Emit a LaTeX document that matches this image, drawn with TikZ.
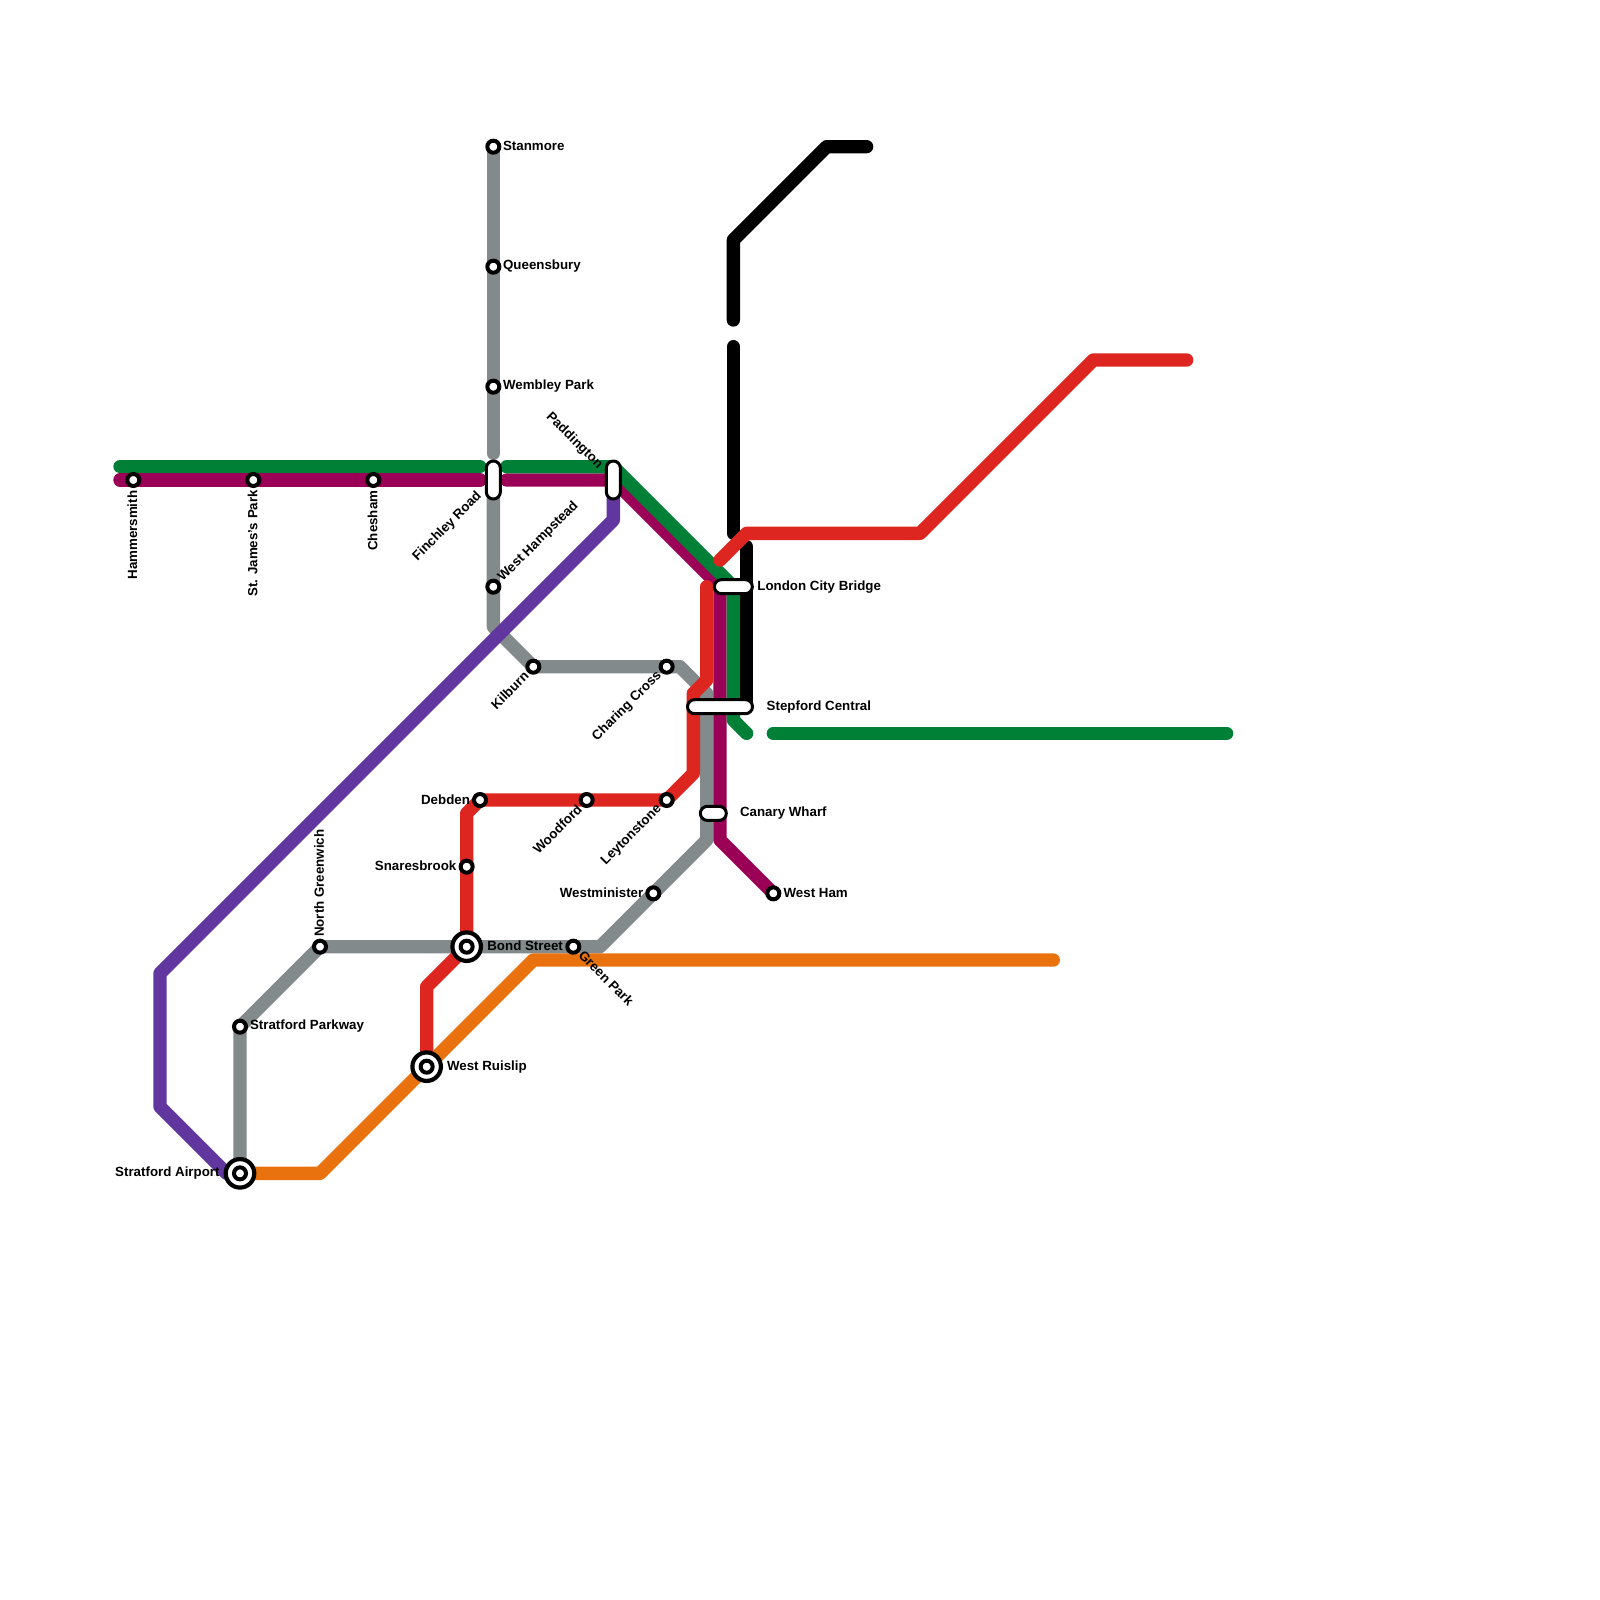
\documentclass[tikz,border=0pt]{standalone}
\usepackage{fontspec}
\setmainfont{Liberation Sans}
\usepackage{xcolor}
\definecolor{Line_Green}{HTML}{007F36}
\definecolor{Line_Magenta}{HTML}{990056}
\definecolor{Line_Purple}{HTML}{61369E}
\definecolor{Line_Gray}{HTML}{838A8C}
\definecolor{Line_Red}{HTML}{DD261F}
\definecolor{Line_Orange}{HTML}{E9720F}

\begin{document}
\begin{tikzpicture}[
    x=0.13333cm, y=-0.13333cm,
    metro/.style={line width=0.13333cm, line cap=round, line join=round},
    stop/.style={circle, draw=black, fill=white, line width=0.04cm, inner sep=0pt, minimum size=0.12cm},
    hub/.style={circle, draw=black, fill=white, line width=0.042cm, inner sep=0pt, minimum size=0.285cm},
    pill/.style={rectangle, draw=black, fill=white, line width=0.03cm, inner sep=0pt, rounded corners=0.07cm},
    pillh/.style={pill, minimum height=0.14cm, minimum width=#1},
    pillv/.style={pill, minimum width=0.14cm, minimum height=#1},
    lbl/.style={font=\fontsize{3.79}{4.5}\selectfont\bfseries, inner sep=0pt, text=black}
]
\useasboundingbox (0,0) rectangle (120,120);

% stations
\coordinate (stanmore) at (37,11);
\coordinate (queensbury) at (37,20);
\coordinate (wembley) at (37,29);
\coordinate (finchley) at (37,36);
\coordinate (hampstead) at (37,44);
\coordinate (paddington) at (46,36);
\coordinate (hammersmith) at (10,36);
\coordinate (jamespark) at (19,36);
\coordinate (chesham) at (28,36);
\coordinate (kilburn) at (40,50);
\coordinate (charing) at (50,50);
\coordinate (debden) at (36,60);
\coordinate (woodford) at (44,60);
\coordinate (leytonstone) at (50,60);
\coordinate (snaresbrook) at (35,65);
\coordinate (bond) at (35,71);
\coordinate (greenpark) at (43,71);
\coordinate (westminister) at (49,67);
\coordinate (westham) at (58,67);
\coordinate (greenwich) at (24,71);
\coordinate (parkway) at (18,77);
\coordinate (airport) at (18,88);
\coordinate (ruislip) at (32,80);
\coordinate (cityBridge) at (55,44);
\coordinate (stepford) at (54,53);
\coordinate (canary) at (53.5,61);

% bends and line ends
\coordinate (blackA) at (65,11);
\coordinate (blackB) at (62,11);
\coordinate (blackC) at (55,18);
\coordinate (blackD) at (55,24);
\coordinate (blackE) at (55,26);
\coordinate (blackF) at (55,40);
\coordinate (blackG) at (56,41);
\coordinate (blackH) at (56,53);
\coordinate (grayA) at (37,34);
\coordinate (grayB) at (37,47);
\coordinate (grayC) at (51,50);
\coordinate (grayD) at (53,52);
\coordinate (grayE) at (53,63);
\coordinate (grayF) at (45,71);
\coordinate (magA) at (9,36);
\coordinate (magB) at (36,36);
\coordinate (magC) at (38,36);
\coordinate (magD) at (54,44);
\coordinate (magE) at (54,63);
\coordinate (greenA) at (9,35);
\coordinate (greenB) at (36,35);
\coordinate (greenC) at (38,35);
\coordinate (greenD) at (46,35);
\coordinate (greenE) at (55,54);
\coordinate (greenF) at (56,55);
\coordinate (greenG) at (58,55);
\coordinate (greenH) at (92,55);
\coordinate (purpleA) at (46,39);
\coordinate (purpleB) at (12,73);
\coordinate (purpleC) at (12,83);
\coordinate (purpleD) at (17,88);
\coordinate (redA) at (89,27);
\coordinate (redB) at (82,27);
\coordinate (redC) at (69,40);
\coordinate (redD) at (56,40);
\coordinate (redE) at (54,42);
\coordinate (redF) at (53,44);
\coordinate (redG) at (53,51);
\coordinate (redH) at (52,52);
\coordinate (redI) at (52,58);
\coordinate (redJ) at (35,61);
\coordinate (redK) at (32,74);
\coordinate (orangeA) at (24,88);
\coordinate (orangeB) at (40,72);
\coordinate (orangeC) at (79,72);

% lines
\draw[metro, black] (blackA) -- (blackB) -- (blackC) -- (blackD);
\draw[metro, black] (blackE) -- (blackF);
\draw[metro, black] (blackG) -- (blackH);
\draw[metro, Line_Gray] (stanmore) -- (grayA);
\draw[metro, Line_Gray] (finchley) -- (grayB) -- (kilburn) -- (grayC) -- (grayD) -- (grayE) -- (grayF) -- (greenwich) -- (parkway) -- (airport);
\draw[metro, Line_Magenta] (magA) -- (magB);
\draw[metro, Line_Magenta] (magC) -- (paddington) -- (magD) -- (magE) -- (westham);
\draw[metro, Line_Green] (greenA) -- (greenB);
\draw[metro, Line_Green] (greenC) -- (greenD) -- (cityBridge) -- (greenE) -- (greenF);
\draw[metro, Line_Green] (greenG) -- (greenH);
\draw[metro, Line_Purple] (paddington) -- (purpleA) -- (purpleB) -- (purpleC) -- (purpleD);
\draw[metro, Line_Red] (redA) -- (redB) -- (redC) -- (redD) -- (redE);
\draw[metro, Line_Red] (redF) -- (redG) -- (redH) -- (redI) -- (leytonstone) -- (debden) -- (redJ) -- (bond) -- (redK) -- (ruislip);
\draw[metro, Line_Orange] (airport) -- (orangeA) -- (orangeB) -- (orangeC);

% stops
\node[stop] (stanmoreStop) at (stanmore) {};
\node[stop] (queensburyStop) at (queensbury) {};
\node[stop] (wembleyStop) at (wembley) {};
\node[stop] (hampsteadStop) at (hampstead) {};
\node[stop] (hammersmithStop) at (hammersmith) {};
\node[stop] (jamesparkStop) at (jamespark) {};
\node[stop] (cheshamStop) at (chesham) {};
\node[stop] (kilburnStop) at (kilburn) {};
\node[stop] (charingStop) at (charing) {};
\node[stop] (debdenStop) at (debden) {};
\node[stop] (woodfordStop) at (woodford) {};
\node[stop] (leytonstoneStop) at (leytonstone) {};
\node[stop] (snaresbrookStop) at (snaresbrook) {};
\node[stop] (greenparkStop) at (greenpark) {};
\node[stop] (westministerStop) at (westminister) {};
\node[stop] (westhamStop) at (westham) {};
\node[stop] (greenwichStop) at (greenwich) {};
\node[stop] (parkwayStop) at (parkway) {};
\node[hub] (bondHub) at (bond) {};
\node[stop] (bondStop) at (bond) {};
\node[hub] (airportHub) at (airport) {};
\node[stop] (airportStop) at (airport) {};
\node[hub] (ruislipHub) at (ruislip) {};
\node[stop] (ruislipStop) at (ruislip) {};
\node[pillv=0.38cm] (finchleyStop) at (finchley) {};
\node[pillv=0.38cm] (paddingtonStop) at (paddington) {};
\node[pillh=0.38cm] (cityBridgeStop) at (cityBridge) {};
\node[pillh=0.65cm] (stepfordStop) at (stepford) {};
\node[pillh=0.26cm] (canaryStop) at (canary) {};

% labels
\node[lbl, anchor=west] (stanmoreText) at (37.68,10.93) {Stanmore};
\node[lbl, anchor=west] (queensburyText) at (37.68,19.97) {Queensbury};
\node[lbl, anchor=west] (wembleyText) at (37.68,28.97) {Wembley Park};
\node[lbl, anchor=west] (parkwayText) at (18.7,76.95) {Stratford Parkway};
\node[lbl, anchor=west] (bondText) at (36.5,70.95) {Bond Street};
\node[lbl, anchor=west] (ruislipText) at (33.48,80) {West Ruislip};
\node[lbl, anchor=west] (stepfordText) at (57.45,53) {Stepford Central};
\node[lbl, anchor=west] (canaryText) at (55.45,61) {Canary Wharf};
\node[lbl, anchor=west] (cityBridgeText) at (56.75,44) {London City Bridge};
\node[lbl, anchor=west] (westhamText) at (58.72,66.95) {West Ham};
\node[lbl, anchor=east] (airportText) at (16.52,88) {Stratford Airport};
\node[lbl, anchor=east] (debdenText) at (35.3,59.95) {Debden};
\node[lbl, anchor=east] (snaresbrookText) at (34.28,64.95) {Snaresbrook};
\node[lbl, anchor=east] (westministerText) at (48.3,66.93) {Westminister};
\node[lbl, anchor=east, rotate=90] (hammersmithText) at (9.93,36.75) {Hammersmith};
\node[lbl, anchor=east, rotate=90] (jamesparkText) at (18.95,36.7) {St. James's Park};
\node[lbl, anchor=east, rotate=90] (cheshamText) at (27.95,36.75) {Chesham};
\node[lbl, anchor=west, rotate=90] (greenwichText) at (23.93,70.32) {North Greenwich};
\node[lbl, anchor=east, rotate=45] (finchleyText) at (36,37.05) {Finchley Road};
\node[lbl, anchor=west, rotate=45] (hampsteadText) at (37.5,43.5) {West Hampstead};
\node[lbl, anchor=east, rotate=-45] (paddingtonText) at (45.05,35.05) {Paddington};
\node[lbl, anchor=east, rotate=45] (kilburnText) at (39.5,50.5) {Kilburn};
\node[lbl, anchor=east, rotate=45] (charingText) at (49.5,50.5) {Charing Cross};
\node[lbl, anchor=east, rotate=45] (woodfordText) at (43.5,60.5) {Woodford};
\node[lbl, anchor=east, rotate=45] (leytonstoneText) at (49.5,60.5) {Leytonstone};
\node[lbl, anchor=west, rotate=-45] (greenparkText) at (43.55,71.45) {Green Park};
\end{tikzpicture}
\end{document}
